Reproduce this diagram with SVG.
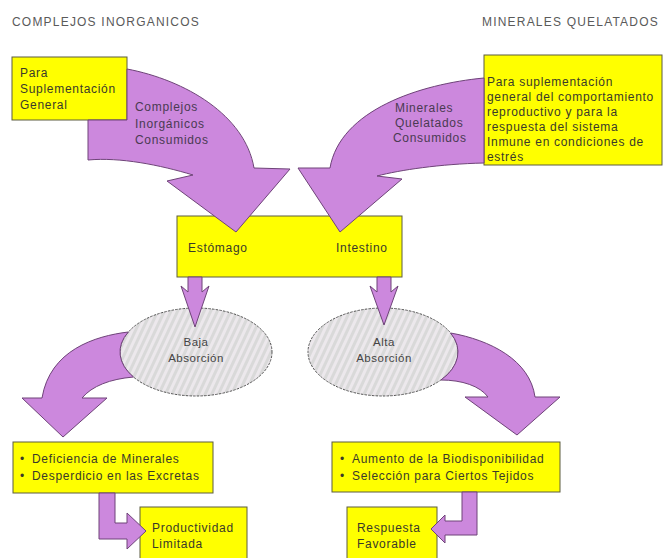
<svg xmlns="http://www.w3.org/2000/svg" width="665" height="558" viewBox="0 0 665 558">
<style>
text{font-family:"Liberation Sans",Arial,Helvetica,sans-serif;}
.title{font-size:12px;letter-spacing:1.2px;fill:#5a5a5a;}
.bx{fill:#ffff00;stroke:#5c5c40;stroke-width:1;}
.t{font-size:12px;letter-spacing:0.7px;fill:#3a3a2a;}
.al{font-size:12px;letter-spacing:0.7px;fill:#4a3a52;}
.el{fill:url(#hatch);stroke:#555;stroke-width:1;stroke-dasharray:2.5 1.2;}
.et{font-size:11.5px;letter-spacing:0.5px;fill:#444;text-anchor:middle;}
.arr{fill:#cc88dd;stroke:#6e4378;stroke-width:1;stroke-linejoin:miter;}
</style>
<defs>
<pattern id="hatch" patternUnits="userSpaceOnUse" width="6" height="6" patternTransform="rotate(25)">
<rect width="6" height="6" fill="#d9d9d9"/>
<rect width="3" height="6" fill="#ece8ec"/>
</pattern>
</defs>
<rect width="665" height="558" fill="#ffffff"/>
<text class="title" x="12" y="26">COMPLEJOS INORGANICOS</text>
<text class="title" x="482" y="26">MINERALES QUELATADOS</text>

<g id="n-general">
<rect class="bx" x="12" y="57" width="115" height="63"/>
<text class="t" x="20" y="77">Para</text>
<text class="t" x="20" y="93">Suplementación</text>
<text class="t" x="20" y="109">General</text>
</g>
<g id="n-quelatados">
<rect class="bx" x="484" y="55" width="178" height="110"/>
<text class="t" x="487" y="86">Para suplementación</text>
<text class="t" x="487" y="101">general del comportamiento</text>
<text class="t" x="487" y="116">reproductivo y para la</text>
<text class="t" x="487" y="131">respuesta del sistema</text>
<text class="t" x="487" y="146">Inmune en condiciones de</text>
<text class="t" x="487" y="161">estrés</text>
</g>
<g id="n-digestivo">
<rect class="bx" x="177" y="216" width="225" height="61"/>
<text class="t" x="188" y="252">Estómago</text>
<text class="t" x="336" y="252">Intestino</text>
</g>
<g id="n-baja">
<ellipse class="el" cx="196" cy="352" rx="76" ry="44"/>
<text class="et" x="196" y="346">Baja</text>
<text class="et" x="196" y="362">Absorción</text>
</g>
<g id="n-alta">
<ellipse class="el" cx="383" cy="352" rx="75" ry="44"/>
<text class="et" x="384" y="346">Alta</text>
<text class="et" x="384" y="362">Absorción</text>
</g>
<g id="n-deficiencia">
<rect class="bx" x="13" y="442" width="200" height="51"/>
<text class="t" x="20" y="463">•</text>
<text class="t" x="32" y="463">Deficiencia de Minerales</text>
<text class="t" x="20" y="480">•</text>
<text class="t" x="32" y="480">Desperdicio en las Excretas</text>
</g>
<g id="n-aumento">
<rect class="bx" x="332" y="442" width="228" height="50"/>
<text class="t" x="340" y="463">•</text>
<text class="t" x="352" y="463">Aumento de la Biodisponibilidad</text>
<text class="t" x="340" y="480">•</text>
<text class="t" x="352" y="480">Selección para Ciertos Tejidos</text>
</g>
<g id="n-productividad">
<rect class="bx" x="140" y="507" width="107" height="60"/>
<text class="t" x="152" y="532">Productividad</text>
<text class="t" x="152" y="548">Limitada</text>
</g>
<g id="n-respuesta">
<rect class="bx" x="347" y="507" width="90" height="60"/>
<text class="t" x="357" y="532">Respuesta</text>
<text class="t" x="357" y="548">Favorable</text>
</g>

<g id="connectors">
<path class="arr" d="M127,69 C185,80 245,115 254,168 L290,169 L236,232 L167,181 L193,175 C160,165 120,157 88,160 L88,120 L127,120 Z"/>
<path class="arr" d="M484,78 C420,84 340,110 330,168 L298,168 L340,232 L402,179 L377,176 C400,170 440,164 484,163 Z"/>
<path class="arr" d="M188,277 L202,277 L202,292 L209,286 L195,327 L181,286 L188,292 Z"/>
<path class="arr" d="M377,277 L391,277 L391,292 L398,286 L384,325 L370,286 L377,292 Z"/>
<path class="arr" d="M128.3,332 C95,336 50,350 42,398 L22,398 L63,437 L107,398 L82,398 C92,386 110,379 133.5,377 A76,44 0 0 1 128.3,332 Z"/>
<path class="arr" d="M450.6,333 C490,340 530,360 535,397 L560,397 L517,435 L465,397 L488,397 C480,386 462,380 440.9,380 A75,44 0 0 0 450.6,333 Z"/>
<path class="arr" d="M99,493 L115,493 L115,523 L127,523 L127,513 L146,531 L127,549 L127,539 L99,539 Z"/>
<path class="arr" d="M462,492 L477,492 L477,535 L445,535 L445,543 L431,529 L445,515 L445,521 L462,521 Z"/>
<text class="al" x="135" y="111">Complejos</text>
<text class="al" x="135" y="128">Inorgánicos</text>
<text class="al" x="135" y="144">Consumidos</text>
<text class="al" x="395" y="112">Minerales</text>
<text class="al" x="395" y="127">Quelatados</text>
<text class="al" x="393" y="142">Consumidos</text>
</g>
</svg>
